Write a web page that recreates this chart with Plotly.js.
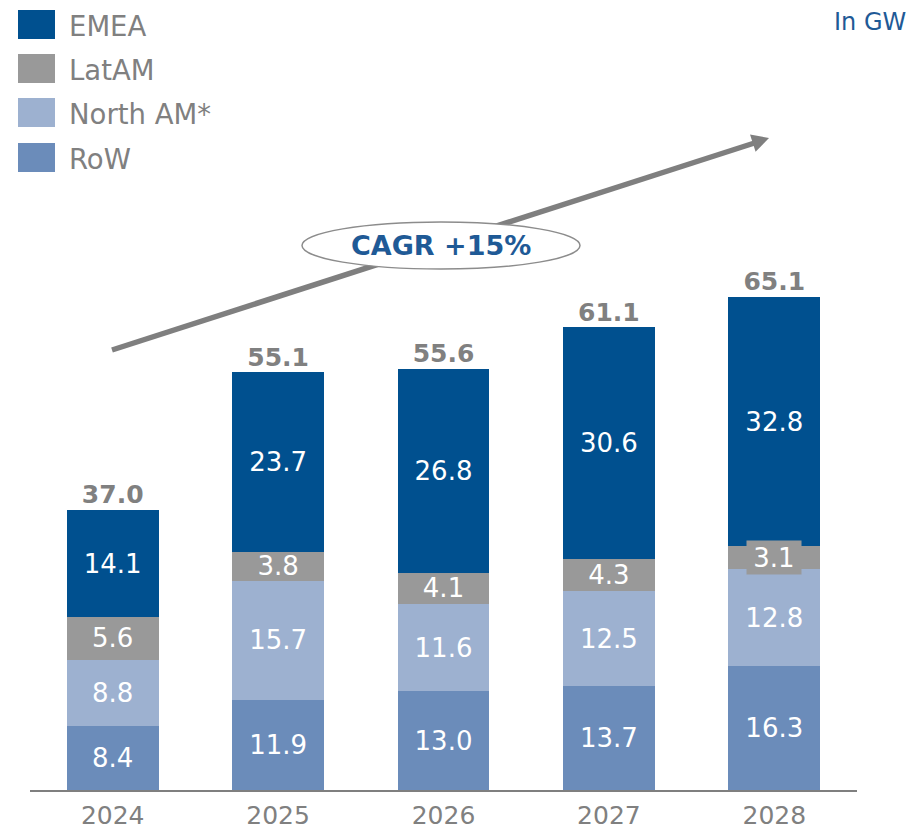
<!DOCTYPE html>
<html>
<head>
<meta charset="utf-8">
<script src="https://cdn.plot.ly/plotly-3.0.1.min.js"></script>
<style>html,body{margin:0;padding:0;background:#fff;}#chart{width:911px;height:830px;}</style>
</head>
<body>
<div id="chart"></div>
<script>
const years = ['2024', '2025', '2026', '2027', '2028'];
const rowValues = [8.4, 11.9, 13.0, 13.7, 16.3];
const northAmValues = [8.8, 15.7, 11.6, 12.5, 12.8];
const latAmValues = [5.6, 3.8, 4.1, 4.3, 3.1];
const emeaValues = [14.1, 23.7, 26.8, 30.6, 32.8];
const totals = [37.0, 55.1, 55.6, 61.1, 65.1];
const seriesNames = ['EMEA', 'LatAM', 'North AM*', 'RoW'];
const cagrLabel = 'CAGR +15%';
const unitLabel = 'In GW';

const colors = {EMEA: '#00508f', LatAM: '#999999', NorthAM: '#9db1d0', RoW: '#6b8cba'};
const FONT = 'DejaVu Sans';
const GREY = '#808080';
const BLUE = '#1f5a96';

// layout geometry (pixels)
const W = 911, H = 830, ML = 30, MR = 54, MT = 180, MB = 40;
const PW = W - ML - MR, PH = H - MT - MB;
const px = x => (x - ML) / PW;
const py = y => (H - MB - y) / PH;

function fmt(v) { return v.toFixed(1); }

function barTrace(name, vals, color, hideIdx) {
  return {
    type: 'bar', name: name, x: years, y: vals,
    marker: {color: color, line: {width: 0}},
    text: vals.map((v, i) => (hideIdx === i ? '' : fmt(v))),
    textposition: 'inside', insidetextanchor: 'middle', textangle: 0,
    constraintext: 'none',
    textfont: {family: FONT, size: 26, color: '#ffffff'},
    hoverinfo: 'x+y+name', cliponaxis: false
  };
}

const data = [
  barTrace('RoW', rowValues, colors.RoW),
  barTrace('North AM*', northAmValues, colors.NorthAM),
  barTrace('LatAM', latAmValues, colors.LatAM, 4),
  barTrace('EMEA', emeaValues, colors.EMEA),
  {
    type: 'scatter', mode: 'text', x: years, y: totals,
    text: totals.map(v => '<b>' + fmt(v) + '</b>'),
    textposition: 'top center', cliponaxis: false,
    textfont: {family: FONT, size: 25, color: GREY},
    hoverinfo: 'skip', showlegend: false
  }
];

const annotations = [];
// highlighted LatAM 2028 label with grey box
annotations.push({
  x: 4, y: rowValues[4] + northAmValues[4] + latAmValues[4] / 2,
  xref: 'x', yref: 'y', text: fmt(latAmValues[4]), showarrow: false,
  bgcolor: colors.LatAM, borderpad: 4, width: 46, height: 25,
  font: {family: FONT, size: 26, color: '#ffffff'}
});
// unit label
annotations.push({
  x: px(908), y: py(22), xref: 'paper', yref: 'paper', xanchor: 'right', yanchor: 'middle',
  text: unitLabel, showarrow: false, font: {family: FONT, size: 24, color: BLUE}
});
// CAGR label
annotations.push({
  x: px(441), y: py(245), xref: 'paper', yref: 'paper', xanchor: 'center', yanchor: 'middle',
  text: '<b>' + cagrLabel + '</b>', showarrow: false, font: {family: FONT, size: 27, color: BLUE}
});

// legend (manual)
const legendColors = [colors.EMEA, colors.LatAM, colors.NorthAM, colors.RoW];
const legendTops = [10, 54, 98, 143];
const shapes = [];
seriesNames.forEach((nm, i) => {
  shapes.push({
    type: 'rect', xref: 'paper', yref: 'paper',
    x0: px(18), x1: px(55), y0: py(legendTops[i]), y1: py(legendTops[i] + 29),
    fillcolor: legendColors[i], line: {width: 0}
  });
  annotations.push({
    x: px(67), y: py(legendTops[i] + 16), xref: 'paper', yref: 'paper', xanchor: 'left', yanchor: 'middle',
    text: nm, showarrow: false, font: {family: FONT, size: 27.5, color: GREY}
  });
});

// trend arrow
shapes.push({
  type: 'line', xref: 'paper', yref: 'paper',
  x0: px(112), y0: py(350), x1: px(756), y1: py(142.5),
  line: {color: '#7f7f7f', width: 5.5}
});
shapes.push({
  type: 'path', xref: 'paper', yref: 'paper',
  path: 'M ' + px(769) + ',' + py(138) + ' L ' + px(750) + ',' + py(134.6) +
        ' L ' + px(755.6) + ',' + py(151.8) + ' Z',
  fillcolor: '#7f7f7f', line: {width: 0}
});
// CAGR ellipse
shapes.push({
  type: 'circle', xref: 'paper', yref: 'paper',
  x0: px(302), x1: px(580), y0: py(222), y1: py(269),
  fillcolor: '#ffffff', line: {color: '#8c8c8c', width: 1.5}
});

const layout = {
  width: W, height: H,
  margin: {l: ML, r: MR, t: MT, b: MB, pad: 0},
  paper_bgcolor: '#ffffff', plot_bgcolor: '#ffffff',
  barmode: 'stack', bargap: 0.445, showlegend: false,
  xaxis: {
    type: 'category', range: [-0.5, 4.5], showgrid: false, zeroline: false,
    showline: true, linecolor: '#7f7f7f', linewidth: 2, ticks: '', ticklabelstandoff: 2,
    tickfont: {family: FONT, size: 25, color: GREY}, fixedrange: true
  },
  yaxis: {range: [0, 80.5], showgrid: false, zeroline: false, showline: false,
          showticklabels: false, ticks: '', fixedrange: true},
  shapes: shapes, annotations: annotations
};

Plotly.newPlot('chart', data, layout, {displayModeBar: false, staticPlot: true});
</script>
</body>
</html>
